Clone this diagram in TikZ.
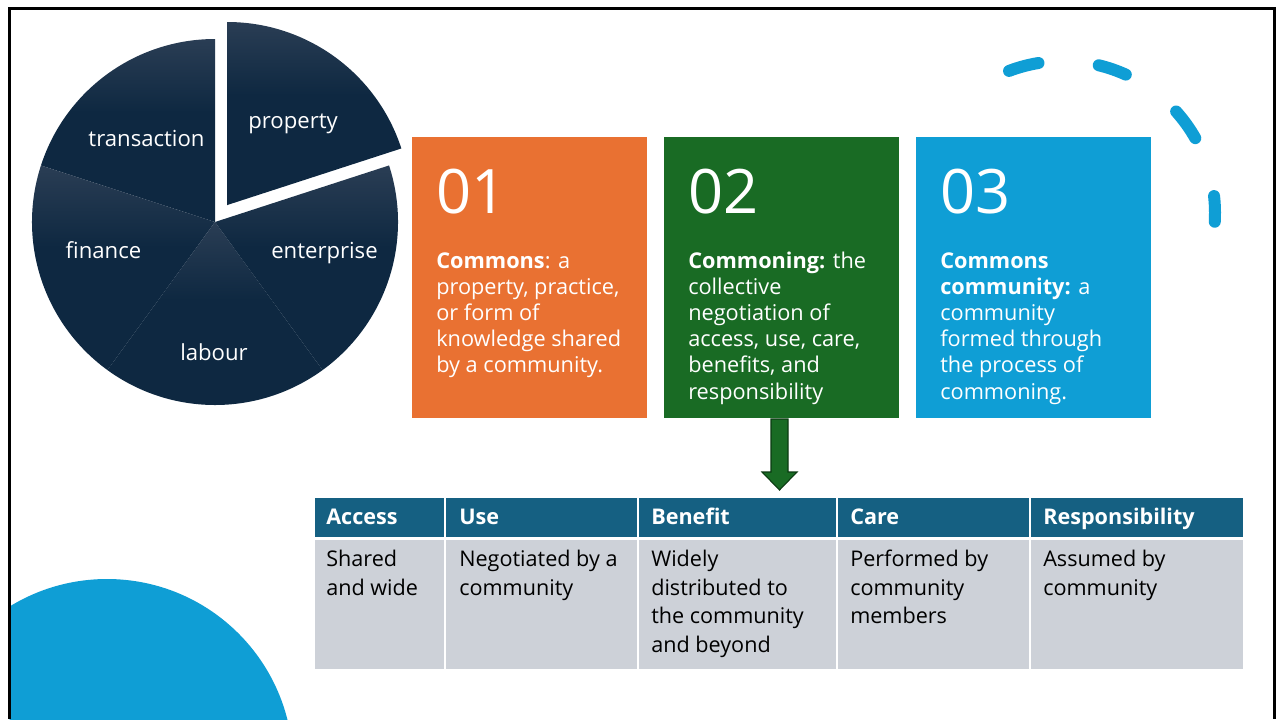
\documentclass[tikz,border=0pt]{standalone}
\usepackage{fontspec}
\setmainfont{Open Sans}
\usetikzlibrary{calc}
\definecolor{navy}{HTML}{0E2841}
\definecolor{navylight}{HTML}{4D586C}
\definecolor{orangebox}{HTML}{E97132}
\definecolor{greenbox}{HTML}{196B24}
\definecolor{bluebox}{HTML}{0F9ED5}
\definecolor{headteal}{HTML}{156082}
\definecolor{cellgray}{HTML}{CDD1D8}
\definecolor{arrowedge}{HTML}{0B3A12}
% slice shading: light at the top edge, dark navy from a little below a third down
\pgfdeclareverticalshading{slicegrad}{100bp}{color(0bp)=(navy); color(55bp)=(navy); color(100bp)=(navylight)}
% left-aligned lines whose baseline is that of the first line
\newcommand{\linesblock}[1]{\begin{tabular}[t]{@{}l@{}}#1\end{tabular}}
\begin{document}
\begin{tikzpicture}[x=0.75pt,y=-0.75pt,
  slice/.style={shading=slicegrad},
  slicelabel/.style={text=white, inner sep=0pt, anchor=base, font=\fontsize{16.6}{19}\selectfont},
  card/.style={draw=none, inner sep=0pt, anchor=north west,
    minimum width=176.25pt, minimum height=210.75pt},
  cardnum/.style={text=white, inner sep=0pt, anchor=base west, font=\fontsize{46}{50}\selectfont},
  cardtext/.style={text=white, inner sep=0pt, anchor=base west,
    font=\fontsize{16.3}{19.65}\selectfont},
  headcell/.style={fill=headteal},
  bodycell/.style={fill=cellgray},
  headtext/.style={text=white, inner sep=0pt, anchor=base west, font=\fontsize{16.2}{19}\selectfont\bfseries},
  bodytext/.style={text=black, inner sep=0pt, anchor=base west,
    font=\fontsize{16.2}{21.5}\selectfont},
  dashseg/.style={draw=bluebox, line width=9pt, line cap=round}]

% page
\useasboundingbox (0,0) rectangle (1277,719);
\fill[white] (0,0) rectangle (1277,719);

% blue disc in the lower left corner, cut off by the frame
\begin{scope}
  \clip (9.5,8.5) rectangle (1274.5,719);
  \fill[bluebox] (107,765) circle[radius=186];
\end{scope}

% frame
\draw[black, line width=1.9pt] (9.5,719) -- (9.5,8.5) -- (1274.5,8.5) -- (1274.5,719);

% pie chart with five equal slices, "property" pulled out
\coordinate (pc) at (215,222);
\coordinate (pcx) at ($(pc)+(12.3,-17)$);
\shade[slice] (pc) -- ++(-162:183) arc[start angle=-162, end angle=-90, radius=183] -- cycle;
\shade[slice] (pc) -- ++(-234:183) arc[start angle=-234, end angle=-162, radius=183] -- cycle;
\shade[slice] (pc) -- ++(-306:183) arc[start angle=-306, end angle=-234, radius=183] -- cycle;
\shade[slice] (pc) -- ++(-18:183) arc[start angle=-18, end angle=54, radius=183] -- cycle;
\shade[slice] (pcx) -- ++(-90:183) arc[start angle=-90, end angle=-18, radius=183] -- cycle;

\node[slicelabel] (ltrans) at (146.5,146) {transaction};
\node[slicelabel] (lprop) at (293,128) {property};
\node[slicelabel] (lent) at (324.5,258) {enterprise};
\node[slicelabel] (lfin) at (103.5,258) {finance};
\node[slicelabel] (llab) at (214,360) {labour};

% dashed arc, top right
\coordinate (ac) at (1063,213);
\draw[dashseg] (ac) ++(-110.8:152) arc[start angle=-110.8, end angle=-99.3, radius=152];
\draw[dashseg] (ac) ++(-76.4:152) arc[start angle=-76.4, end angle=-65.6, radius=152];
\draw[dashseg] (ac) ++(-41.9:152) arc[start angle=-41.9, end angle=-29.5, radius=152];
\draw[dashseg] (ac) ++(-6.4:152) arc[start angle=-6.4, end angle=3.3, radius=152];

% three cards
\node[card, fill=orangebox] (c1) at (412,137) {};
\node[card, fill=greenbox] (c2) at (664,137) {};
\node[card, fill=bluebox] (c3) at (916,137) {};

\node[cardnum] (n1) at (436,213) {01};
\node[cardnum] (n2) at (688,213) {02};
\node[cardnum] (n3) at (940,213) {03};

\node[cardtext] (t1) at (436,268) {\linesblock{\textbf{Commons}: a\\property, practice,\\or form of\\knowledge shared\\by a community.}};
\node[cardtext] (t2) at (688,268) {\linesblock{\textbf{Commoning:} the\\collective\\negotiation of\\access, use, care,\\benefits, and\\responsibility}};
\node[cardtext] (t3) at (940,268) {\linesblock{\textbf{Commons}\\\textbf{community:} a\\community\\formed through\\the process of\\commoning.}};

% table
\fill[headcell] (315,498) rectangle (444,537);
\fill[headcell] (446,498) rectangle (637,537);
\fill[headcell] (639,498) rectangle (836,537);
\fill[headcell] (838,498) rectangle (1029,537);
\fill[headcell] (1031,498) rectangle (1243,537);
\fill[bodycell] (315,540) rectangle (444,669);
\fill[bodycell] (446,540) rectangle (637,669);
\fill[bodycell] (639,540) rectangle (836,669);
\fill[bodycell] (838,540) rectangle (1029,669);
\fill[bodycell] (1031,540) rectangle (1243,669);

\node[headtext] (h1) at (326,524.5) {Access};
\node[headtext] (h2) at (459,524.5) {Use};
\node[headtext] (h3) at (651,524.5) {Benefit};
\node[headtext] (h4) at (850,524.5) {Care};
\node[headtext] (h5) at (1043,524.5) {Responsibility};

\node[bodytext] (d1) at (326,566.5) {\linesblock{Shared\\and wide}};
\node[bodytext] (d2) at (459,566.5) {\linesblock{Negotiated by a\\community}};
\node[bodytext] (d3) at (651,566.5) {\linesblock{Widely\\distributed to\\the community\\and beyond}};
\node[bodytext] (d4) at (850,566.5) {\linesblock{Performed by\\community\\members}};
\node[bodytext] (d5) at (1043,566.5) {\linesblock{Assumed by\\community}};

% block arrow from card 02 down to the table
\coordinate (atop) at (779.5,419);
\coordinate (atip) at (779.5,490);
\filldraw[fill=greenbox, draw=arrowedge, line width=0.8pt, line join=miter]
  ($(atop)+(-8.5,0)$) -- ($(atop)+(8.5,0)$) -- ($(atip)+(8.5,-18)$) -- ($(atip)+(17.5,-18)$)
  -- (atip) -- ($(atip)+(-17.5,-18)$) -- ($(atip)+(-8.5,-18)$) -- cycle;
\end{tikzpicture}
\end{document}
